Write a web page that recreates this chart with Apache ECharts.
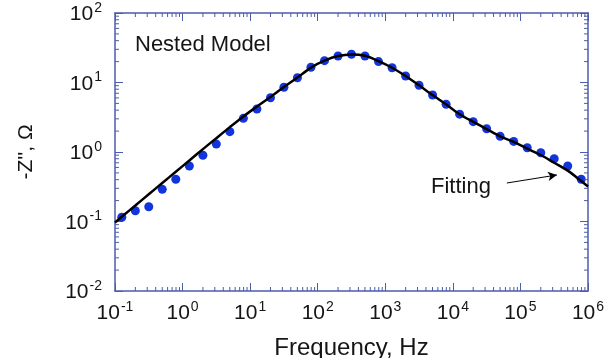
<!DOCTYPE html>
<html>
<head>
<meta charset="utf-8">
<script src="https://cdn.jsdelivr.net/npm/echarts@6/dist/echarts.min.js"></script>
<style>
html,body{margin:0;padding:0;background:#fff;}
#chart{width:608px;height:358px;}
</style>
</head>
<body>
<div id="chart"></div>
<script>
// Measured data points (Frequency in Hz, -Z'' in Ohm)
const dataFreq = [0.126, 0.2, 0.316, 0.501, 0.794, 1.26, 2.0, 3.16, 5.01, 7.94,
  12.6, 20, 31.6, 50.1, 79.4, 126, 200, 316, 501, 794,
  1260, 2000, 3160, 5010, 7940, 12600, 20000, 31600, 50100, 79400,
  126000, 200000, 316000, 501000, 794000];
const dataZ = [0.115, 0.143, 0.163, 0.290, 0.405, 0.629, 0.897, 1.30, 1.96, 3.05,
  4.16, 6.04, 8.53, 11.7, 16.6, 20.6, 24.1, 25.5, 24.1, 20.0,
  16.3, 12.4, 9.12, 6.61, 4.86, 3.50, 2.73, 2.16, 1.68, 1.42,
  1.15, 0.977, 0.80, 0.63, 0.406];
// Fitted curve
const fitFreq = [0.1, 0.126, 0.2, 0.316, 0.501, 0.794, 1.26, 2.0, 3.16, 5.01, 7.94,
  12.6, 20, 31.6, 50.1, 79.4, 126, 200, 316, 501, 794,
  1260, 2000, 3160, 5010, 7940, 12600, 20000, 31600, 50100, 79400,
  126000, 200000, 316000, 501000, 794000, 1000000];
const fitZ = [0.097, 0.117, 0.170, 0.247, 0.358, 0.520, 0.755, 1.10, 1.58, 2.28, 3.25,
  4.5, 6.2, 8.6, 11.8, 16.4, 20.6, 24.0, 25.3, 24.2, 20.3,
  16.3, 12.4, 9.1, 6.6, 4.85, 3.5, 2.72, 2.14, 1.68, 1.40,
  1.12, 0.905, 0.70, 0.54, 0.383, 0.319];
// Axis ranges (decades)
const xMin = 0.1, xMax = 1e6;
const yMin = 0.01, yMax = 100;
// Annotation arrow (data coords)
const arrowFrom = [63000, 0.358];
const arrowTo = [347000, 0.467];

const axisColor = '#4b5cab';
const textColor = '#151515';
const FONT = '"Liberation Sans", Arial, sans-serif';

function minorValues(lo, hi) {
  const out = [];
  for (let k = Math.round(Math.log10(lo)); k < Math.round(Math.log10(hi)); k++) {
    for (let m = 2; m <= 9; m++) out.push(+(m * Math.pow(10, k)).toPrecision(3));
  }
  return out;
}
const xMinor = minorValues(xMin, xMax).map(v => [v, 1]);
const yMinor = minorValues(yMin, yMax).map(v => [1, v]);

function powLabel(v) {
  const e = Math.round(Math.log10(v));
  return '{b|10}{s|' + e + '}';
}
const rich = {
  b: {fontSize: 21, fontFamily: FONT, color: textColor, lineHeight: 24, verticalAlign: 'bottom'},
  s: {fontSize: 14, fontFamily: FONT, color: textColor, lineHeight: 24, verticalAlign: 'top', padding: [0,0,0,1]}
};

const chart = echarts.init(document.getElementById('chart'), null, {renderer: 'canvas'});
const baseAxis = {
  type: 'log', logBase: 10,
  axisLine: {show: true, onZero: false, lineStyle: {color: axisColor, width: 1.5}},
  axisTick: {show: true, inside: true, length: 8, lineStyle: {color: axisColor, width: 1}},
  splitLine: {show: false},
  minorTick: {show: false},
};
chart.setOption({
  animation: false,
  backgroundColor: '#fff',
  grid: {left: 115, right: 20, top: 13, bottom: 67, containLabel: false, outerBoundsMode: 'none'},
  xAxis: [
    Object.assign({}, baseAxis, {
      min: xMin, max: xMax, interval: 1, position: 'bottom',
      name: 'Frequency, Hz', nameLocation: 'middle', nameGap: 45,
      nameTextStyle: {fontSize: 24, fontFamily: FONT, color: textColor},
      axisLabel: {margin: 9, formatter: powLabel, rich: rich}
    }),
    Object.assign({}, baseAxis, {
      min: xMin, max: xMax, interval: 1, position: 'top',
      axisLabel: {show: false}
    })
  ],
  yAxis: [
    Object.assign({}, baseAxis, {
      min: yMin, max: yMax, interval: 1, position: 'left',
      name: "-Z'', \u03A9", nameLocation: 'middle', nameGap: 78, nameRotate: 90,
      nameTextStyle: {fontSize: 21, fontFamily: FONT, color: textColor},
      axisLabel: {margin: 13, formatter: powLabel, rich: rich}
    }),
    Object.assign({}, baseAxis, {
      min: yMin, max: yMax, interval: 1, position: 'right',
      axisLabel: {show: false}
    })
  ],
  graphic: [
    {type: 'text', left: 135, top: 34, style: {text: 'Nested Model', font: '22px ' + FONT, fill: textColor}},
    {type: 'text', left: 431, top: 176, style: {text: 'Fitting', font: '22px ' + FONT, fill: textColor}}
  ],
  series: [
    {
      type: 'custom', coordinateSystem: 'cartesian2d', silent: true, clip: false, z: 5,
      xAxisIndex: 0, yAxisIndex: 0, encode: {x: 0, y: 1},
      data: xMinor,
      renderItem: function (params, api) {
        const v = api.value(0);
        const b = api.coord([v, yMin]);
        const t = api.coord([v, yMax]);
        const st = {stroke: axisColor, lineWidth: 1};
        return {type: 'group', children: [
          {type: 'line', shape: {x1: b[0], y1: b[1], x2: b[0], y2: b[1] - 4}, style: st},
          {type: 'line', shape: {x1: t[0], y1: t[1], x2: t[0], y2: t[1] + 4}, style: st}
        ]};
      }
    },
    {
      type: 'custom', coordinateSystem: 'cartesian2d', silent: true, clip: false, z: 5,
      xAxisIndex: 0, yAxisIndex: 0, encode: {x: 0, y: 1},
      data: yMinor,
      renderItem: function (params, api) {
        const v = api.value(1);
        const l = api.coord([xMin, v]);
        const r = api.coord([xMax, v]);
        const st = {stroke: axisColor, lineWidth: 1};
        return {type: 'group', children: [
          {type: 'line', shape: {x1: l[0], y1: l[1], x2: l[0] + 4, y2: l[1]}, style: st},
          {type: 'line', shape: {x1: r[0], y1: r[1], x2: r[0] - 4, y2: r[1]}, style: st}
        ]};
      }
    },
    {
      name: 'Data', type: 'scatter', z: 3,
      xAxisIndex: 0, yAxisIndex: 0,
      symbol: 'circle', symbolSize: 9,
      itemStyle: {color: '#1234dc', opacity: 1},
      data: dataFreq.map((f, i) => [f, dataZ[i]])
    },
    {
      name: 'Fitting', type: 'line', z: 4,
      xAxisIndex: 0, yAxisIndex: 0,
      smooth: 0.3, showSymbol: false, symbol: 'none',
      lineStyle: {color: '#000', width: 2.5},
      data: fitFreq.map((f, i) => [f, fitZ[i]]),
      markLine: {
        silent: true, symbol: ['none', 'arrow'], symbolSize: [7, 9],
        lineStyle: {color: '#000', width: 1, type: 'solid'},
        label: {show: false},
        data: [[{coord: arrowFrom}, {coord: arrowTo}]]
      }
    }
  ]
});
</script>
</body>
</html>
